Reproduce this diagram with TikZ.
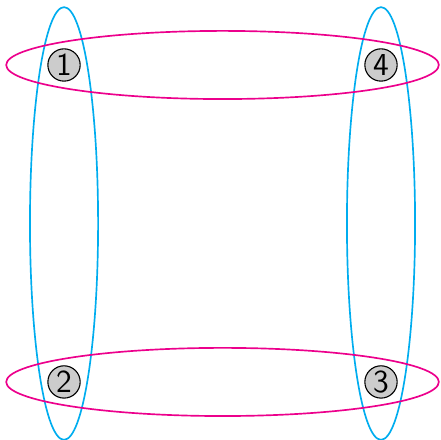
\documentclass[tikz,border=0pt]{standalone}
\usepackage{tikz}
\usetikzlibrary{calc}
\tikzset{site/.style={circle, draw, fill=black!20, inner sep=0pt, minimum size=11.6pt, font=\sffamily\fontsize{11.5}{12}\selectfont}}

\begin{document}
\begin{tikzpicture}[scale=1.0]
\useasboundingbox (-0.808,-0.732) rectangle (4.757,4.82);
\draw[cyan, semithick] (0,2) ellipse [x radius=0.43, y radius=2.73];
\draw[cyan, semithick] (4,2) ellipse [x radius=0.43, y radius=2.73];
\draw[magenta, semithick] (2,4) ellipse [x radius=2.73, y radius=0.43];
\draw[magenta, semithick] (2,0) ellipse [x radius=2.73, y radius=0.43];
\node[site] (n1) at (0,4) {1};
\node[site] (n2) at (0,0) {2};
\node[site] (n3) at (4,0) {3};
\node[site] (n4) at (4,4) {4};
\end{tikzpicture}
\end{document}
